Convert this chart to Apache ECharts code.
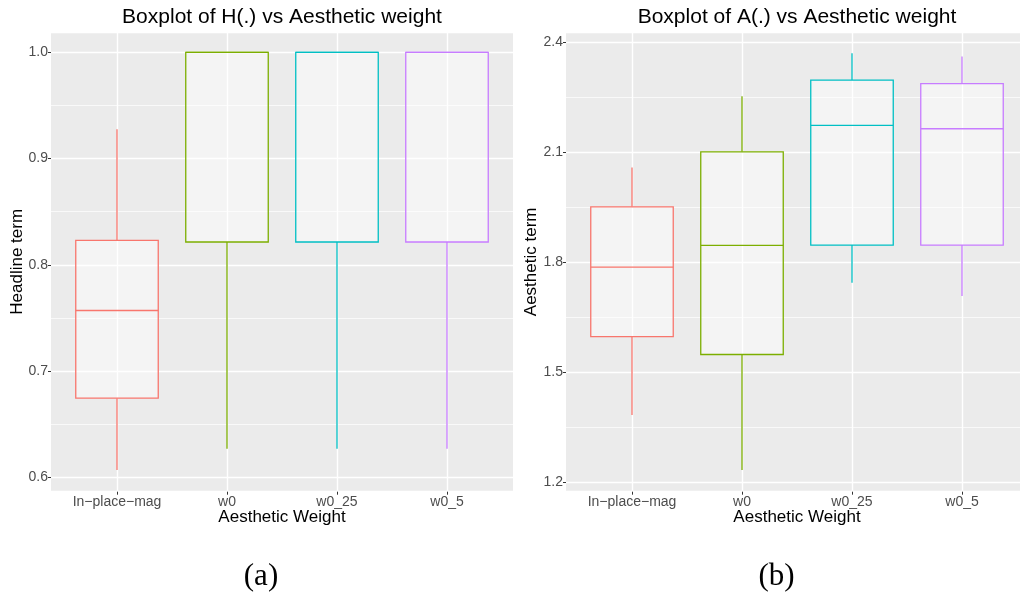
<!DOCTYPE html>
<html>
<head>
<meta charset="utf-8">
<script src="https://cdn.jsdelivr.net/npm/echarts@6/dist/echarts.min.js"></script>
<style>
  html, body { margin: 0; padding: 0; background: #ffffff; }
  #chart { width: 1020px; height: 595px; }
</style>
</head>
<body>
<div id="chart"></div>
<script>
// ---- data ----
const categories = ['In\u2212place\u2212mag', 'w0', 'w0_25', 'w0_5'];

// Panel (a): Headline term H(.)
const hLower  = [0.607, 0.627, 0.627, 0.627];
const hQ1     = [0.6745, 0.8215, 0.8215, 0.8215];
const hMedian = [0.757, 1.0, 1.0, 1.0];
const hQ3     = [0.823, 1.0, 1.0, 1.0];
const hUpper  = [0.9275, 1.0, 1.0, 1.0];

// Panel (b): Aesthetic term A(.)
const aLower  = [1.3825, 1.2325, 1.7435, 1.7075];
const aQ1     = [1.5965, 1.548, 1.8465, 1.8465];
const aMedian = [1.7865, 1.8455, 2.1735, 2.164];
const aQ3     = [1.951, 2.101, 2.297, 2.287];
const aUpper  = [2.0585, 2.2525, 2.370, 2.361];

// axis ranges (ggplot expanded limits) and tick steps
const hRange = [0.5865, 1.0191];
const hStep = 0.1;
const aRange = [1.1735, 2.4281];
const aStep = 0.3;

const palette = ['#F8766D', '#7CAE00', '#00BFC4', '#C77CFF'];

function rows(lo, q1, med, q3, up) {
  return categories.map((c, i) => [i, lo[i], q1[i], med[i], q3[i], up[i]]);
}

function renderBox(params, api) {
  const i = api.value(0);
  const band = api.size([1, 0])[0];
  const half = band * 0.75 / 2;
  const pLow = api.coord([i, api.value(1)]);
  const pQ1 = api.coord([i, api.value(2)]);
  const pMed = api.coord([i, api.value(3)]);
  const pQ3 = api.coord([i, api.value(4)]);
  const pUp = api.coord([i, api.value(5)]);
  const color = palette[params.dataIndex];
  const cx = pQ1[0];
  const lw = 1.3;
  return {
    type: 'group',
    children: [
      { type: 'line', shape: { x1: cx, y1: pQ3[1], x2: cx, y2: pUp[1] },
        style: { stroke: color, lineWidth: lw } },
      { type: 'line', shape: { x1: cx, y1: pLow[1], x2: cx, y2: pQ1[1] },
        style: { stroke: color, lineWidth: lw } },
      { type: 'rect', shape: { x: cx - half, y: pQ3[1], width: 2 * half, height: pQ1[1] - pQ3[1] },
        style: { fill: 'rgba(255,255,255,0.45)', stroke: color, lineWidth: lw } },
      { type: 'line', shape: { x1: cx - half, y1: pMed[1], x2: cx + half, y2: pMed[1] },
        style: { stroke: color, lineWidth: lw } }
    ]
  };
}

const FONT = 'Liberation Sans, Arial, sans-serif';
const TOP = 32, HEIGHT = 459.7;

// panel geometry: background panel (with 0.6 band expansion) and data grid (4 bands)
const panels = [
  { bgLeft: 51, dataLeft: 62, range: hRange, step: hStep, name: 'Headline term',
    title: 'Boxplot of H(.) vs Aesthetic weight', titleX: 282, cap: '(a)', capX: 261,
    data: rows(hLower, hQ1, hMedian, hQ3, hUpper) },
  { bgLeft: 566, dataLeft: 577, range: aRange, step: aStep, name: 'Aesthetic term',
    title: 'Boxplot of A(.) vs Aesthetic weight', titleX: 797, cap: '(b)', capX: 776.5,
    data: rows(aLower, aQ1, aMedian, aQ3, aUpper) }
];

const grid = [], xAxis = [], yAxis = [], series = [], graphic = [];
panels.forEach((p, k) => {
  const gBg = grid.length;
  grid.push({ left: p.bgLeft, top: TOP, width: 462, height: HEIGHT, show: true,
              backgroundColor: '#EBEBEB', borderWidth: 0, z: -1 });
  const gData = grid.length;
  grid.push({ left: p.dataLeft, top: TOP, width: 440, height: HEIGHT, show: false });

  // background grid axes
  xAxis.push({ gridIndex: gBg, type: 'value', min: 0, max: 1, show: false });
  // minor grid lines
  yAxis.push({ gridIndex: gBg, type: 'value', min: p.range[0], max: p.range[1],
    minInterval: p.step / 2, maxInterval: p.step / 2, position: 'left',
    axisLine: { show: false }, axisTick: { show: false }, axisLabel: { show: false },
    splitLine: { show: true, lineStyle: { color: '#ffffff', width: 0.7 } } });
  // major grid lines, labels, ticks, name
  yAxis.push({ gridIndex: gBg, type: 'value', min: p.range[0], max: p.range[1],
    minInterval: p.step, maxInterval: p.step, position: 'left',
    name: p.name, nameLocation: 'middle', nameGap: k === 0 ? 25 : 26, nameMoveOverlap: false,
    nameTextStyle: { color: '#000000', fontSize: 17, fontFamily: FONT },
    axisLine: { show: false },
    axisTick: { show: true, length: 3, lineStyle: { color: '#333333', width: 1 } },
    axisLabel: { show: true, margin: 3, color: '#4D4D4D', fontSize: 14, fontFamily: FONT,
      showMinLabel: false, showMaxLabel: false,
      formatter: v => v.toFixed(1) },
    splitLine: { show: true, lineStyle: { color: '#ffffff', width: 1.4 } } });

  // data grid axes
  const xData = xAxis.length;
  xAxis.push({ gridIndex: gData, type: 'category', data: categories, boundaryGap: true,
    name: 'Aesthetic Weight', nameLocation: 'middle', nameGap: 17, nameMoveOverlap: false,
    nameTextStyle: { color: '#000000', fontSize: 17, fontFamily: FONT },
    axisLine: { show: false },
    axisTick: { show: true, alignWithLabel: true, length: 3, lineStyle: { color: '#333333', width: 1 } },
    axisLabel: { show: true, margin: 3, color: '#4D4D4D', fontSize: 14, fontFamily: FONT, interval: 0 },
    splitLine: { show: true, alignWithLabel: true, lineStyle: { color: '#ffffff', width: 1.4 } } });
  const yData = yAxis.length;
  yAxis.push({ gridIndex: gData, type: 'value', min: p.range[0], max: p.range[1], show: false });

  series.push({ type: 'custom', xAxisIndex: xData, yAxisIndex: yData,
    renderItem: renderBox, data: p.data, encode: { x: 0, y: [1, 2, 3, 4, 5] },
    clip: false, silent: true, z: 3 });

  graphic.push({ type: 'text', x: p.titleX, y: 17.5, silent: true,
    style: { text: p.title, textAlign: 'center', textVerticalAlign: 'middle',
             font: '21px ' + FONT, fill: '#000000' } });
  graphic.push({ type: 'text', x: p.capX, y: 577, silent: true,
    style: { text: p.cap, textAlign: 'center', textVerticalAlign: 'middle',
             font: '31px "Liberation Serif", "DejaVu Serif", serif', fill: '#000000' } });
});

const chart = echarts.init(document.getElementById('chart'), null, { renderer: 'canvas' });
chart.setOption({
  animation: false,
  backgroundColor: '#ffffff',
  grid, xAxis, yAxis, series, graphic
});
</script>
</body>
</html>
